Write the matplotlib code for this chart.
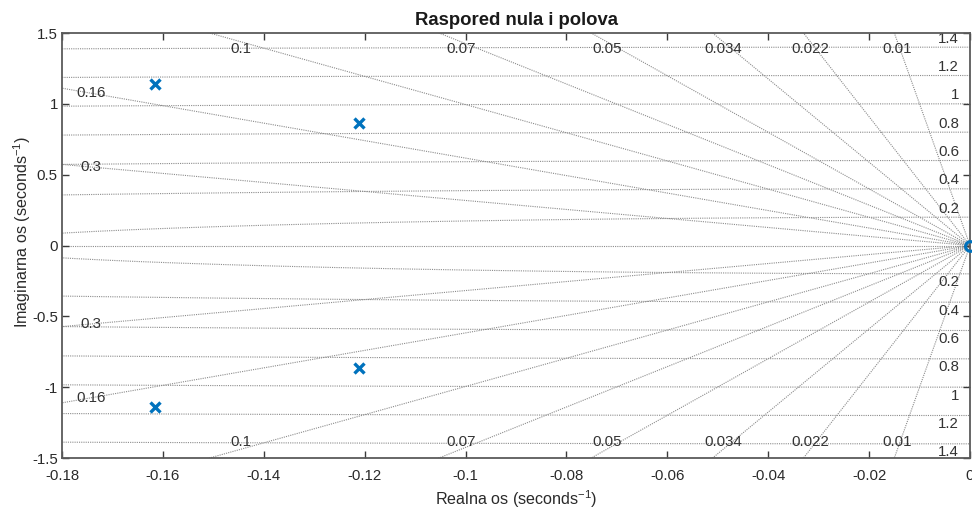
import numpy as np
import matplotlib
matplotlib.use("Agg")
import matplotlib.pyplot as plt

plt.rcParams['font.family'] = ['Liberation Sans', 'DejaVu Sans']
plt.rcParams['mathtext.fontset'] = 'custom'
plt.rcParams['mathtext.rm'] = 'Liberation Sans'
plt.rcParams['mathtext.it'] = 'Liberation Sans:italic'

# Data
pole_re = [-0.1615, -0.1615, -0.1212, -0.1212]
pole_im = [1.142, -1.142, 0.862, -0.862]
zero_re = [0.0]
zero_im = [0.0]
zetas = [0.01, 0.022, 0.034, 0.05, 0.07, 0.1, 0.16, 0.3]
top_zetas = [0.01, 0.022, 0.034, 0.05, 0.07, 0.1]
left_zetas = [0.16, 0.3]
wns = [0.2, 0.4, 0.6, 0.8, 1.0, 1.2, 1.4]
wn_labels = ['0.2', '0.4', '0.6', '0.8', '1', '1.2', '1.4']
xticks = [-0.18, -0.16, -0.14, -0.12, -0.1, -0.08, -0.06, -0.04, -0.02, 0]
xticklabels = ['-0.18', '-0.16', '-0.14', '-0.12', '-0.1', '-0.08', '-0.06',
               '-0.04', '-0.02', '0']
yticks = [-1.5, -1, -0.5, 0, 0.5, 1, 1.5]
yticklabels = ['-1.5', '-1', '-0.5', '0', '0.5', '1', '1.5']

xmin, xmax = -0.18, 0.0
ymin, ymax = -1.5, 1.5

fig = plt.figure(figsize=(9.72, 5.11), dpi=100)
ax = fig.add_axes([62/972, 1-458/511, (970-62)/972, (458-33)/511])

grid_kw = dict(color='#8c8c8c', lw=0.8, ls=(0, (1, 1)), zorder=1)

# damping lines
for z in zetas:
    s = np.sqrt(1 - z**2) / z
    xs = np.array([-10.0, 0.0])
    ax.plot(xs, -xs * s, **grid_kw)
    ax.plot(xs, xs * s, **grid_kw)
ax.plot([-10, 0], [0, 0], **grid_kw)

# natural frequency circles
th = np.linspace(np.pi / 2, 3 * np.pi / 2, 4000)
for w in wns:
    ax.plot(w * np.cos(th), w * np.sin(th), **grid_kw)

txt_kw = dict(fontsize=10.8, color='#333333', zorder=2)
# zeta labels top/bottom
ylab = 1.39
for z in top_zetas:
    s = np.sqrt(1 - z**2) / z
    xl = -ylab / s
    ax.annotate(f'{z:g}', (xl, ylab), xytext=(-175 * z, 0), textcoords='offset points',
                ha='center', va='center', **txt_kw)
    ax.annotate(f'{z:g}', (xl, -ylab), xytext=(-175 * z, 0), textcoords='offset points',
                ha='center', va='center', **txt_kw)
# zeta labels left
xlab = -0.1742
for z in left_zetas:
    s = np.sqrt(1 - z**2) / z
    yl = -xlab * s
    ax.text(xlab, yl, f'{z:g}', ha='center', va='center', **txt_kw)
    ax.text(xlab, -yl, f'{z:g}', ha='center', va='center', **txt_kw)
# wn labels
for w, lab in zip(wns, wn_labels):
    ax.text(-0.0022, w + 0.01, lab, ha='right', va='bottom', **txt_kw)
    ax.text(-0.0022, -w - 0.01, lab, ha='right', va='top', **txt_kw)

blue = '#0072BD'
ax.plot(pole_re, pole_im, ls='none', marker='x', ms=7, mew=2.4, color=blue, zorder=4)
ax.plot(zero_re, zero_im, ls='none', marker='o', ms=7, mew=2.2, mfc='none', mec=blue,
        zorder=4, clip_on=False)

ax.set_xlim(xmin, xmax)
ax.set_ylim(ymin, ymax)
ax.set_xticks(xticks)
ax.set_xticklabels(xticklabels)
ax.set_yticks(yticks)
ax.set_yticklabels(yticklabels)
ax.tick_params(direction='in', length=5, width=1, top=True, right=True,
               colors='#3a3a3a', labelsize=10.8, labelcolor='#2a2a2a', pad=3)
ax.tick_params(axis='x', pad=8)
for sp in ax.spines.values():
    sp.set_color('#5a5a5a')
    sp.set_linewidth(1.3)

ax.set_title('Raspored nula i polova', fontsize=13.3, fontweight='bold', color='#1a1a1a', pad=6)
ax.set_xlabel('Realna os (seconds$^{-1}$)', fontsize=11.6, color='#2a2a2a', va='center')
ax.set_ylabel('Imaginarna os (seconds$^{-1}$)', fontsize=11.6, color='#2a2a2a', va='center')
ax.xaxis.set_label_coords(0.5, (458 - 499) / 425)
ax.yaxis.set_label_coords((22 - 62) / 908, (458 - 232) / 425)

fig.savefig('out.png', dpi=100)
